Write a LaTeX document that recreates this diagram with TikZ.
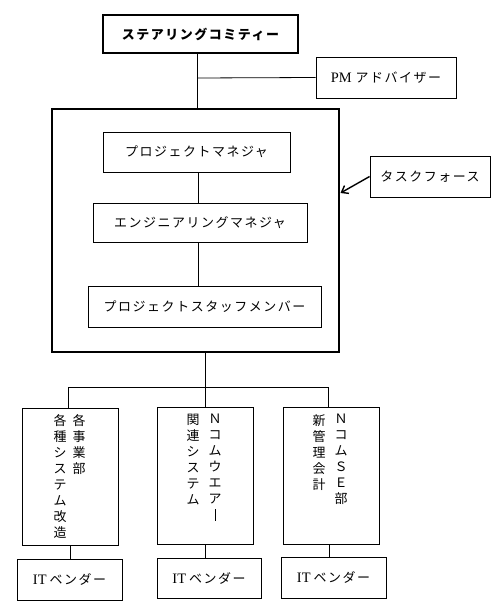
\documentclass[tikz,border=0pt]{standalone}
\usepackage{fontspec}
\setmainfont{Liberation Serif}
\newfontfamily\jp[LetterSpace=12]{Noto Sans CJK JP}
\usetikzlibrary{arrows.meta}
\newcommand\vbar{\rule[-1bp]{0.7bp}{11.5bp}}
\begin{document}
\begin{tikzpicture}[x=1bp,y=-1bp,
  box/.style={draw, line width=0.8bp, inner sep=0pt, font=\fontsize{14.5}{16}\selectfont},
  jpf/.style={font=\fontsize{13}{15}\selectfont\jp},
  heavy/.style={box, line width=2.6bp},
  vtext/.style={anchor=north, align=center, inner sep=0pt, font=\fontsize{13}{14.6}\selectfont\jp},
  conn/.style={line width=0.8bp}]
\useasboundingbox (0,0) rectangle (500,609);
% top
\node[heavy, minimum width=195bp, minimum height=38bp] (steer) at (200.5,34) {\fontsize{13}{15}\selectfont\jp\bfseries ステアリングコミティー};
\node[box, minimum width=140bp, minimum height=41bp] (adv) at (386,77.5) {PM\hspace{4bp}{\fontsize{13}{15}\selectfont\jp アドバイザー}};
% task force
\node[heavy, minimum width=287bp, minimum height=243bp] (tf) at (195.5,230.5) {};
\node[box, jpf, minimum width=187bp, minimum height=40bp] (pm) at (196.5,152) {プロジェクトマネジャ};
\node[box, jpf, minimum width=214bp, minimum height=39bp] (em) at (200,222.5) {エンジニアリングマネジャ};
\node[box, jpf, minimum width=233bp, minimum height=41bp] (staff) at (204.5,306.5) {プロジェクトスタッフメンバー};
\node[box, jpf, minimum width=120bp, minimum height=41bp] (tfl) at (430,176.5) {タスクフォース};
% bottom boxes
\node[box, minimum width=96bp, minimum height=137bp] (b1) at (70,476.5) {};
\node[box, minimum width=96bp, minimum height=137bp] (b2) at (205,475.5) {};
\node[box, minimum width=96bp, minimum height=137bp] (b3) at (331,475.5) {};
\node[vtext] (b1r) at (79,414) {各\\[1.5bp]事\\[1.5bp]業\\[1.5bp]部};
\node[vtext] (b1l) at (60,414) {各\\[1.5bp]種\\[1.5bp]シ\\[1.5bp]ス\\[1.5bp]テ\\[1.5bp]ム\\[1.5bp]改\\[1.5bp]造};
\node[vtext] (b2r) at (215,414) {Ｎ\\[1.5bp]コ\\[1.5bp]ム\\[1.5bp]ウ\\[1.5bp]エ\\[1.5bp]ア\\[1.5bp]\vbar};
\node[vtext] (b2l) at (193,414) {関\\[1.5bp]連\\[1.5bp]シ\\[1.5bp]ス\\[1.5bp]テ\\[1.5bp]ム};
\node[vtext] (b3r) at (341,414) {Ｎ\\[1.5bp]コ\\[1.5bp]ム\\[1.5bp]Ｓ\\[1.5bp]Ｅ\\[1.5bp]部};
\node[vtext] (b3l) at (319,414) {新\\[1.5bp]管\\[1.5bp]理\\[1.5bp]会\\[1.5bp]計};
% vendors
\node[box, minimum width=105bp, minimum height=41bp] (v1) at (69.5,579.5) {IT\hspace{3bp}{\fontsize{13}{15}\selectfont\jp ベンダー}};
\node[box, minimum width=104bp, minimum height=40bp] (v2) at (209,578) {IT\hspace{3bp}{\fontsize{13}{15}\selectfont\jp ベンダー}};
\node[box, minimum width=105bp, minimum height=41bp] (v3) at (333.5,577.5) {IT\hspace{3bp}{\fontsize{13}{15}\selectfont\jp ベンダー}};
% connectors
\coordinate (j1) at (197,78);
\draw[conn] (steer.south -| j1) -- (tf.north -| j1);
\draw[conn] (adv.west) -- (j1);
\coordinate (a1) at (198,0);
\draw[conn] (pm.south -| a1) -- (em.north -| a1);
\draw[conn] (em.south -| a1) -- (staff.north -| a1);
\coordinate (j2) at (205,387);
\coordinate (l1) at (68,387);
\coordinate (r1) at (328,387);
\draw[conn] (tf.south -| j2) -- (b2.north -| j2);
\draw[conn] (l1) -- (r1);
\draw[conn] (l1) -- (b1.north -| l1);
\draw[conn] (r1) -- (b3.north -| r1);
\draw[conn] (b1.south) -- (v1.north -| b1.south);
\draw[conn] (b2.south) -- (v2.north -| b2.south);
\coordinate (a3) at (329,0);
\draw[conn] (b3.south -| a3) -- (v3.north -| a3);
\coordinate (ah) at (340.5,193);
\draw[line width=1.4bp, -{Straight Barb[length=6bp,width=9bp]}] (tfl.west) -- (ah);
\end{tikzpicture}
\end{document}
